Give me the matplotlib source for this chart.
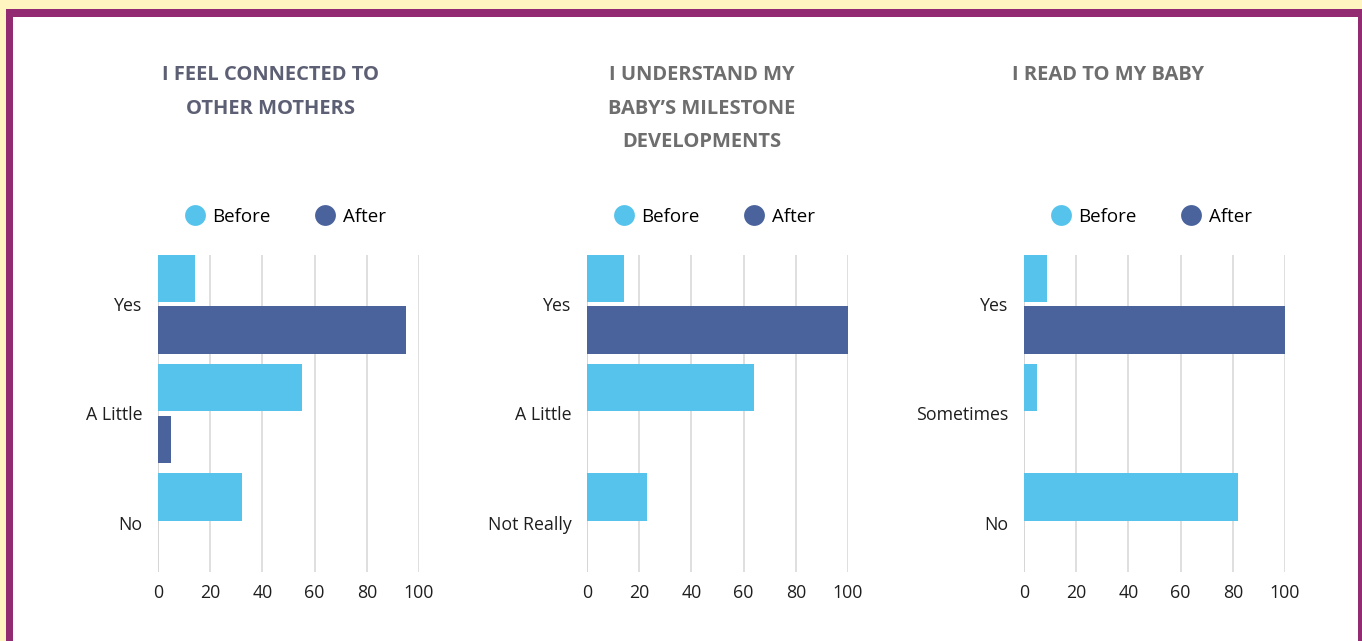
import matplotlib.pyplot as plt
from matplotlib.patches import Rectangle
from matplotlib.lines import Line2D
import numpy as np

plt.rcParams['font.family'] = ['Open Sans', 'DejaVu Sans']

# data (percent)
titles = ["I FEEL CONNECTED TO\nOTHER MOTHERS",
          "I UNDERSTAND MY\nBABY\u2019S MILESTONE\nDEVELOPMENTS",
          "I READ TO MY BABY"]
categories_1 = ["Yes", "A Little", "No"]
before_1 = [14, 55, 32]
after_1 = [95, 5, 0]
categories_2 = ["Yes", "A Little", "Not Really"]
before_2 = [14, 64, 23]
after_2 = [100, 0, 0]
categories_3 = ["Yes", "Sometimes", "No"]
before_3 = [9, 5, 82]
after_3 = [100, 0, 0]
xticks = [0, 20, 40, 60, 80, 100]

panels = [(categories_1, before_1, after_1),
          (categories_2, before_2, after_2),
          (categories_3, before_3, after_3)]

c_before = '#56C3EC'
c_after = '#4A639C'
title_colors = ['#5D6074', '#6E6E6E', '#6E6E6E']

W, H = 1362, 641
fig = plt.figure(figsize=(W / 100, H / 100), dpi=100)
fig.patch.set_facecolor('#FEF5C1')

# purple frame and white card
fig.patches.append(Rectangle((6 / W, 0), 1.0, 1 - 9 / H, transform=fig.transFigure,
                             facecolor='#922B72', edgecolor='none', zorder=-10))
fig.patches.append(Rectangle((13 / W, 0), (1358 - 13) / W, 1 - 17 / H, transform=fig.transFigure,
                             facecolor='white', edgecolor='none', zorder=-9))

lefts = [158, 587, 1024]
title_x = [270, 702, 1108]
ax_w = 261
ax_top, ax_bot = 255, 572

for i, (cats, before, after) in enumerate(panels):
    ax = fig.add_axes([lefts[i] / W, 1 - ax_bot / H, ax_w / W, (ax_bot - ax_top) / H])
    ax.set_facecolor('none')
    y = np.arange(len(cats))
    h = 0.435
    ax.barh(y - 0.02 - h / 2, before, height=h, color=c_before, zorder=3)
    ax.barh(y + 0.02 + h / 2, after, height=h, color=c_after, zorder=3)
    ax.set_ylim(len(cats) - 0.55, -0.45)
    ax.set_xlim(0, 100)
    ax.set_xticks(xticks)
    ax.set_yticks(y)
    ax.set_yticklabels(cats)
    ax.xaxis.grid(True, color='#D9D9D9', linewidth=1.2, zorder=0)
    ax.axvline(0, color='#BFBFBF', linewidth=1.2, zorder=1)
    for s in ax.spines.values():
        s.set_visible(False)
    ax.tick_params(axis='both', length=0, labelsize=12.8, colors='#1E1E1E')
    ax.tick_params(axis='x', pad=9)
    ax.tick_params(axis='y', pad=11)

    handles = [Line2D([], [], marker='o', linestyle='none', markersize=15,
                      markerfacecolor=c_before, markeredgecolor='none', label='Before'),
               Line2D([], [], marker='o', linestyle='none', markersize=15,
                      markerfacecolor=c_after, markeredgecolor='none', label='After')]
    ax.legend(handles=handles, loc='center', bbox_to_anchor=(0.485, 1 + 38 / (ax_bot - ax_top)),
              ncol=2, frameon=False, fontsize=13.5, handletextpad=0.35, columnspacing=2.3,
              handlelength=1.2)

    fig.text(title_x[i] / W, 1 - 65 / H, titles[i], ha='center', va='top',
             fontsize=14.5, fontweight='bold', color=title_colors[i], linespacing=1.9)

fig.savefig('out.png', dpi=100, facecolor=fig.get_facecolor())
